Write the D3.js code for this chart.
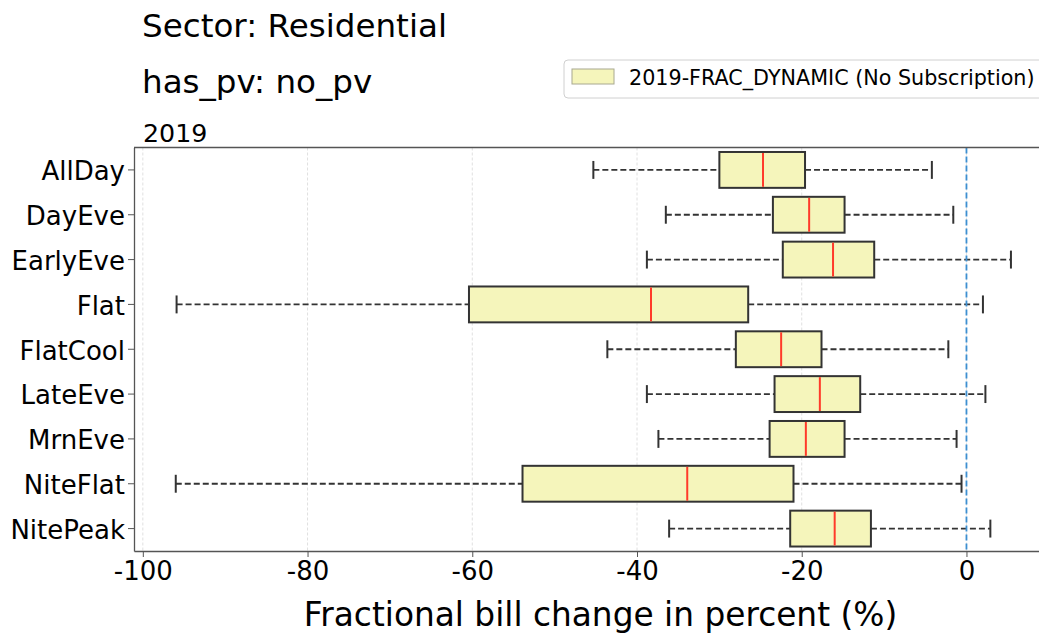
<!DOCTYPE html>
<html>
<head>
<meta charset="utf-8">
<script src="https://cdn.jsdelivr.net/npm/d3@7"></script>
<style>
  body { margin: 0; background: #fff; }
  svg { font-family: "DejaVu Sans", sans-serif; }
</style>
</head>
<body>
<div id="chart"></div>
<script>
// box stats (percent)
var categories = ["AllDay", "DayEve", "EarlyEve", "Flat", "FlatCool", "LateEve", "MrnEve", "NiteFlat", "NitePeak"];
var whiskerLow = [-45.3, -36.5, -38.8, -95.9, -43.6, -38.8, -37.4, -96.0, -36.1];
var q1 = [-30.0, -23.5, -22.3, -60.4, -28.0, -23.3, -23.9, -53.9, -21.4];
var median = [-24.7, -19.1, -16.2, -38.3, -22.5, -17.8, -19.5, -33.9, -16.0];
var q3 = [-19.6, -14.8, -11.2, -26.5, -17.6, -12.9, -14.8, -21.0, -11.6];
var whiskerHigh = [-4.2, -1.6, 5.4, 2.0, -2.2, 2.3, -1.2, -0.6, 2.9];
var xTicks = [-100, -80, -60, -40, -20, 0];
var legendLabel = "2019-FRAC_DYNAMIC (No Subscription)";

var W = 1039, H = 633;
var plotLeft = 134, plotRight = 1052.7, plotTop = 147.5, plotBottom = 551;
var boxFill = "#f5f5bb";
var dark = "#333";

var svg = d3.select("#chart").append("svg")
    .attr("width", W)
    .attr("height", H);

var x = d3.scaleLinear()
    .domain([-101.07, 10.47])
    .range([plotLeft, plotRight]);

var y = d3.scaleBand()
    .domain(categories)
    .range([plotTop, plotBottom]);

var rows = categories.map(function(c, i) {
    return { name: c, lo: whiskerLow[i], q1: q1[i], med: median[i], q3: q3[i], hi: whiskerHigh[i] };
});

// grid
svg.append("g").selectAll("line")
    .data(xTicks)
    .enter().append("line")
    .attr("x1", function(d) { return x(d); })
    .attr("x2", function(d) { return x(d); })
    .attr("y1", plotTop)
    .attr("y2", plotBottom)
    .attr("stroke", "#d8d8d8")
    .attr("stroke-width", 0.8)
    .attr("stroke-dasharray", "3,2");

var bh = y.bandwidth() * 0.8;
var ch = bh / 2;

var g = svg.selectAll(".box")
    .data(rows)
    .enter().append("g")
    .attr("class", "box")
    .attr("transform", function(d) { return "translate(0," + (y(d.name) + y.bandwidth() / 2) + ")"; });

// whiskers
g.append("line")
    .attr("x1", function(d) { return x(d.lo); })
    .attr("x2", function(d) { return x(d.q1); })
    .attr("stroke", dark).attr("stroke-width", 1.8).attr("stroke-dasharray", "6,3");
g.append("line")
    .attr("x1", function(d) { return x(d.q3); })
    .attr("x2", function(d) { return x(d.hi); })
    .attr("stroke", dark).attr("stroke-width", 1.8).attr("stroke-dasharray", "6,3");

// caps
g.append("line")
    .attr("x1", function(d) { return x(d.lo); })
    .attr("x2", function(d) { return x(d.lo); })
    .attr("y1", -ch / 2).attr("y2", ch / 2)
    .attr("stroke", dark).attr("stroke-width", 2);
g.append("line")
    .attr("x1", function(d) { return x(d.hi); })
    .attr("x2", function(d) { return x(d.hi); })
    .attr("y1", -ch / 2).attr("y2", ch / 2)
    .attr("stroke", dark).attr("stroke-width", 2);

// boxes
g.append("rect")
    .attr("x", function(d) { return x(d.q1); })
    .attr("width", function(d) { return x(d.q3) - x(d.q1); })
    .attr("y", -bh / 2)
    .attr("height", bh)
    .attr("fill", boxFill)
    .attr("stroke", dark)
    .attr("stroke-width", 2);

// medians
g.append("line")
    .attr("x1", function(d) { return x(d.med); })
    .attr("x2", function(d) { return x(d.med); })
    .attr("y1", -bh / 2 + 1).attr("y2", bh / 2 - 1)
    .attr("stroke", "#ff3a2a").attr("stroke-width", 2);

// zero line
svg.append("line")
    .attr("x1", x(0)).attr("x2", x(0))
    .attr("y1", plotTop).attr("y2", plotBottom)
    .attr("stroke", "#3d8fd1")
    .attr("stroke-width", 1.8)
    .attr("stroke-dasharray", "6,3");

// axes
var xAxis = svg.append("g")
    .attr("transform", "translate(0," + plotBottom + ")")
    .call(d3.axisBottom(x).tickValues(xTicks).tickFormat(function(d) { return String(d); })
        .tickSize(6).tickPadding(5).tickSizeOuter(0));
xAxis.select(".domain").attr("stroke", "#555").attr("stroke-width", 1.3);
xAxis.selectAll(".tick line").attr("stroke", "#555");
xAxis.selectAll("text").attr("font-size", "26px").attr("font-family", "DejaVu Sans").attr("fill", "#000");

var yAxis = svg.append("g")
    .attr("transform", "translate(" + plotLeft + ",0)")
    .call(d3.axisLeft(y).tickSize(6).tickPadding(3).tickSizeOuter(0));
yAxis.select(".domain").attr("stroke", "#555").attr("stroke-width", 1.3);
yAxis.selectAll(".tick line").attr("stroke", "#555");
yAxis.selectAll("text").attr("font-size", "26px").attr("font-family", "DejaVu Sans").attr("fill", "#000")
    .attr("dy", "0.4em");

// top spine
svg.append("line")
    .attr("x1", plotLeft).attr("x2", plotRight)
    .attr("y1", plotTop).attr("y2", plotTop)
    .attr("stroke", "#555").attr("stroke-width", 1.3);

// titles
svg.append("text").attr("x", 142).attr("y", 37).attr("font-size", "32.6px").text("Sector: Residential");
svg.append("text").attr("x", 142).attr("y", 93).attr("font-size", "32.6px").text("has_pv: no_pv");
svg.append("text").attr("x", 143).attr("y", 142).attr("font-size", "25.3px").text("2019");

// x label
svg.append("text")
    .attr("x", 600.5)
    .attr("y", 626)
    .attr("text-anchor", "middle")
    .attr("font-size", "32.8px")
    .text("Fractional bill change in percent (%)");

// legend
var lg = svg.append("g");
lg.append("rect")
    .attr("x", 564).attr("y", 60)
    .attr("width", 520).attr("height", 38)
    .attr("rx", 4)
    .attr("fill", "#fff").attr("fill-opacity", 0.8)
    .attr("stroke", "#d0d0d0");
lg.append("rect")
    .attr("x", 572).attr("y", 69)
    .attr("width", 42).attr("height", 15)
    .attr("fill", boxFill)
    .attr("stroke", "#a8a890");
lg.append("text")
    .attr("x", 629).attr("y", 84.5)
    .attr("font-size", "20.7px")
    .text(legendLabel);
</script>
</body>
</html>
